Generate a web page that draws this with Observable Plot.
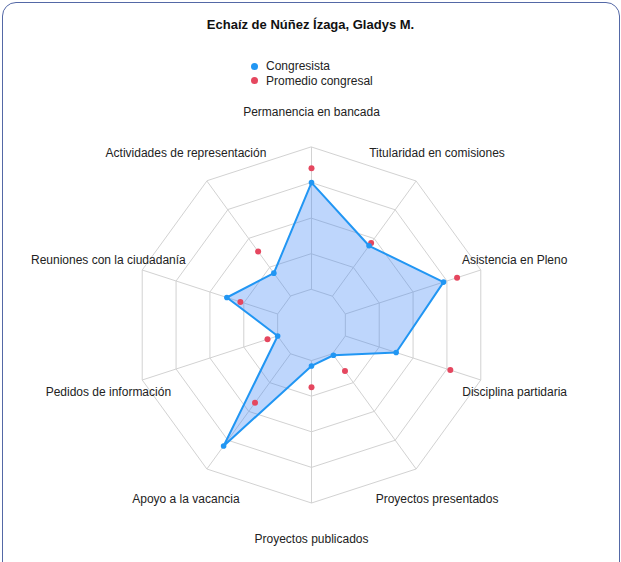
<!DOCTYPE html>
<html>
<head>
<meta charset="utf-8">
<script src="https://cdn.jsdelivr.net/npm/d3@7"></script>
<script src="https://cdn.jsdelivr.net/npm/@observablehq/plot@0.6"></script>
<style>
  html, body { margin: 0; padding: 0; background: #fff; }
  #wrap { position: relative; width: 621px; height: 562px; overflow: hidden; font-family: "Liberation Sans", Arial, sans-serif; color: #222; }
  #frame { position: absolute; left: 2px; top: 2px; width: 618px; height: 575px; border: 1.6px solid #5468a6; border-radius: 14px; box-sizing: border-box; }
  #title { position: absolute; top: 16px; left: 0; width: 621px; text-align: center; font-weight: bold; font-size: 13px; line-height: 18px; color: #111; }
  #legend { position: absolute; top: 59px; left: 250px; font-size: 12px; line-height: 14.5px; color: #222; }
  .item { display: flex; align-items: center; }
  .sw { width: 7px; height: 7px; border-radius: 50%; margin-right: 8px; margin-left: 1px; }
  #chart { position: absolute; top: 95px; left: 0; }
</style>
</head>
<body>
<div id="wrap">
  <div id="frame"></div>
  <div id="title"></div>
  <div id="legend"></div>
  <div id="chart"></div>
</div>
<script>
const title = "Echaíz de Núñez Ízaga, Gladys M.";
const axes = [
  "Permanencia en bancada",
  "Titularidad en comisiones",
  "Asistencia en Pleno",
  "Disciplina partidaria",
  "Proyectos presentados",
  "Proyectos publicados",
  "Apoyo a la vacancia",
  "Pedidos de información",
  "Reuniones con la ciudadanía",
  "Actividades de representación"
];
const seriesNames = ["Congresista", "Promedio congresal"];
const congresista = [80, 55, 78, 50, 21, 23, 84, 20, 50, 36];
const promedio = [88, 57, 86, 82, 32, 35, 54, 26, 42, 51];
const ringTicks = [20, 40, 60, 80, 100];

const BLUE = "#2196f3";
const FILL = "#3b82f6";
const RED = "#e5475f";
const GRID = "#d2d2d2";

document.getElementById("title").textContent = title;
const legend = document.getElementById("legend");
[[seriesNames[0], BLUE], [seriesNames[1], RED]].forEach(([name, c]) => {
  const it = document.createElement("div");
  it.className = "item";
  const sw = document.createElement("span");
  sw.className = "sw";
  sw.style.background = c;
  const t = document.createElement("span");
  t.textContent = name;
  it.appendChild(sw); it.appendChild(t);
  legend.appendChild(it);
});

const K = 10; // degrees of arc for the value 100
const lat = v => 90 - v / 100 * K;
const lon = i => 180 - 36 * i;

const rows = axes.map((a, i) => ({axis: a, i, c: congresista[i], p: promedio[i]}));
const rings = ringTicks.flatMap(t => axes.map((a, i) => ({t, i})));

const W = 621, H = 467, R = 178, CX = 311, CY = 229.5;

const chart = Plot.plot({
  width: W,
  height: H,
  marginLeft: CX - R,
  marginRight: W - CX - R,
  marginTop: CY - R,
  marginBottom: H - CY - R,
  style: {fontFamily: "'Liberation Sans', Arial, sans-serif", fontSize: "12px", background: "transparent", overflow: "visible"},
  projection: {
    type: "azimuthal-equidistant",
    rotate: [0, -90],
    clip: false,
    domain: d3.geoCircle().center([0, 90]).radius(K).precision(1)()
  },
  marks: [
    Plot.line(rings, {x: d => lon(d.i), y: d => lat(d.t), z: "t", curve: "linear-closed", stroke: GRID, strokeWidth: 1}),
    Plot.link(rows, {x1: d => lon(d.i), y1: lat(ringTicks[0]), x2: d => lon(d.i), y2: lat(100), stroke: GRID, strokeWidth: 1}),
    Plot.line(rows, {x: d => lon(d.i), y: d => lat(d.c), curve: "linear-closed", fill: FILL, fillOpacity: 0.33, stroke: BLUE, strokeWidth: 2}),
    Plot.dot(rows, {x: d => lon(d.i), y: d => lat(d.p), r: 3, fill: RED}),
    Plot.dot(rows, {x: d => lon(d.i), y: d => lat(d.c), r: 2.8, fill: BLUE}),
    Plot.text(rows, {x: d => lon(d.i), y: lat(120), dy: 1, text: "axis", fill: "#222", fontSize: 12, textAnchor: "middle"})
  ]
});
document.getElementById("chart").appendChild(chart);
</script>
</body>
</html>
